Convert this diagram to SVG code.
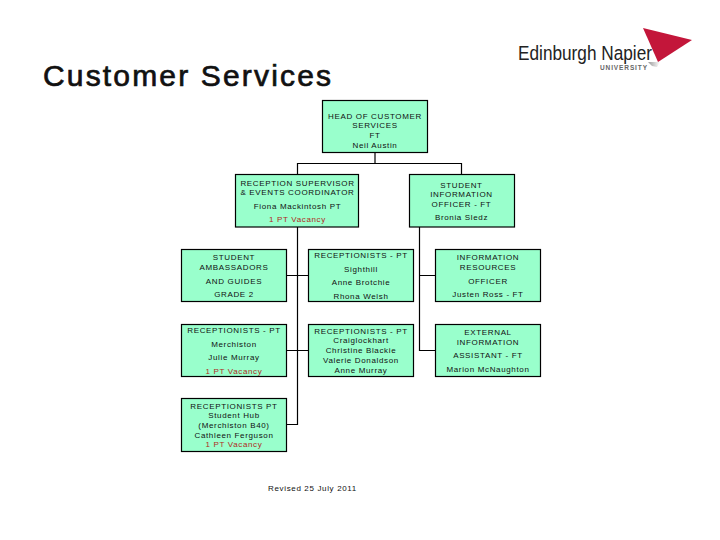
<svg xmlns="http://www.w3.org/2000/svg" width="720" height="540" viewBox="0 0 720 540">
<defs>
<style>
.n{fill:#99ffcc;stroke:#000;stroke-width:1.2}
text{font-family:"Liberation Sans",Arial,sans-serif}
.t{font-size:8px;text-anchor:middle;fill:#111;letter-spacing:.65px}
.v{fill:#b02a1c}
.c{fill:none;stroke:#000;stroke-width:1.2}
</style>
<linearGradient id="sh" x1="0" y1="0" x2="1" y2="0"><stop offset="0" stop-color="#999"/><stop offset="1" stop-color="#fff"/></linearGradient>
</defs>
<rect width="720" height="540" fill="#fff"/>
<text x="43" y="86" font-size="30" fill="#111" textLength="288" lengthAdjust="spacing" stroke="#111" stroke-width=".7">Customer Services</text>
<g id="logo">
<polygon points="648,62 660,62 657,67 652,66" fill="url(#sh)"/>
<polygon points="643,28 692,40 658,62" fill="#c3163a"/>
<text x="518" y="60" font-size="20.5" fill="#222" textLength="134" lengthAdjust="spacingAndGlyphs">Edinburgh Napier</text>
<text x="600" y="70" font-size="6.5" fill="#666" font-weight="700" textLength="47" lengthAdjust="spacing">UNIVERSITY</text>
</g>
<g id="connectors">
<path class="c" d="M375 152.500V163.500M297.500 174V163.500H461.500V174"/>
<path class="c" d="M297.500 227V424.500H287M287 275.500H308.500M287 350.500H308.500"/>
<path class="c" d="M419.500 227V350.500H435M419.500 275.500H435"/>
</g>
<g id="head"><rect class="n" x="322.500" y="100.500" width="105" height="52"/>
<text class="t" x="375" y="119">HEAD OF CUSTOMER</text><text class="t" x="375" y="128">SERVICES</text><text class="t" x="375" y="138">FT</text><text class="t" x="375" y="148">Neil Austin</text></g>
<g id="supervisor"><rect class="n" x="235.500" y="174.500" width="123" height="52.500"/>
<text class="t" x="297.500" y="186">RECEPTION SUPERVISOR</text><text class="t" x="297.500" y="195">&amp; EVENTS COORDINATOR</text><text class="t" x="297.500" y="209">Fiona Mackintosh PT</text><text class="t v" x="297.500" y="222">1 PT Vacancy</text></g>
<g id="info-officer"><rect class="n" x="409.500" y="174.500" width="105" height="52.500"/>
<text class="t" x="461.500" y="188">STUDENT</text><text class="t" x="461.500" y="197">INFORMATION</text><text class="t" x="461.500" y="207">OFFICER - FT</text><text class="t" x="461.500" y="220">Bronia Sledz</text></g>
<g id="ambassadors"><rect class="n" x="181.500" y="249.500" width="105" height="52"/>
<text class="t" x="234" y="260">STUDENT</text><text class="t" x="234" y="270">AMBASSADORS</text><text class="t" x="234" y="284">AND GUIDES</text><text class="t" x="234" y="297">GRADE 2</text></g>
<g id="sighthill"><rect class="n" x="308.500" y="249.500" width="105" height="52"/>
<text class="t" x="361" y="258">RECEPTIONISTS - PT</text><text class="t" x="361" y="272">Sighthill</text><text class="t" x="361" y="285">Anne Brotchie</text><text class="t" x="361" y="299">Rhona Welsh</text></g>
<g id="resources"><rect class="n" x="435.500" y="249.500" width="105" height="52"/>
<text class="t" x="488" y="260">INFORMATION</text><text class="t" x="488" y="270">RESOURCES</text><text class="t" x="488" y="284">OFFICER</text><text class="t" x="488" y="297">Justen Ross - FT</text></g>
<g id="merchiston"><rect class="n" x="181.500" y="324.500" width="105" height="52"/>
<text class="t" x="234" y="333">RECEPTIONISTS - PT</text><text class="t" x="234" y="347">Merchiston</text><text class="t" x="234" y="360">Julie Murray</text><text class="t v" x="234" y="374">1 PT Vacancy</text></g>
<g id="craiglockhart"><rect class="n" x="308.500" y="324.500" width="105" height="52"/>
<text class="t" x="361" y="334">RECEPTIONISTS - PT</text><text class="t" x="361" y="343">Craiglockhart</text><text class="t" x="361" y="353">Christine Blackie</text><text class="t" x="361" y="363">Valerie Donaldson</text><text class="t" x="361" y="373">Anne Murray</text></g>
<g id="assistant"><rect class="n" x="435.500" y="324.500" width="105" height="52"/>
<text class="t" x="488" y="335">EXTERNAL</text><text class="t" x="488" y="345">INFORMATION</text><text class="t" x="488" y="358">ASSISTANT - FT</text><text class="t" x="488" y="372">Marion McNaughton</text></g>
<g id="student-hub"><rect class="n" x="181.500" y="398.500" width="105" height="53"/>
<text class="t" x="234" y="409">RECEPTIONISTS PT</text><text class="t" x="234" y="418">Student Hub</text><text class="t" x="234" y="428">(Merchiston B40)</text><text class="t" x="234" y="438">Cathleen Ferguson</text><text class="t v" x="234" y="447">1 PT Vacancy</text></g>
<text class="t" x="312.500" y="491">Revised 25 July 2011</text>
</svg>
